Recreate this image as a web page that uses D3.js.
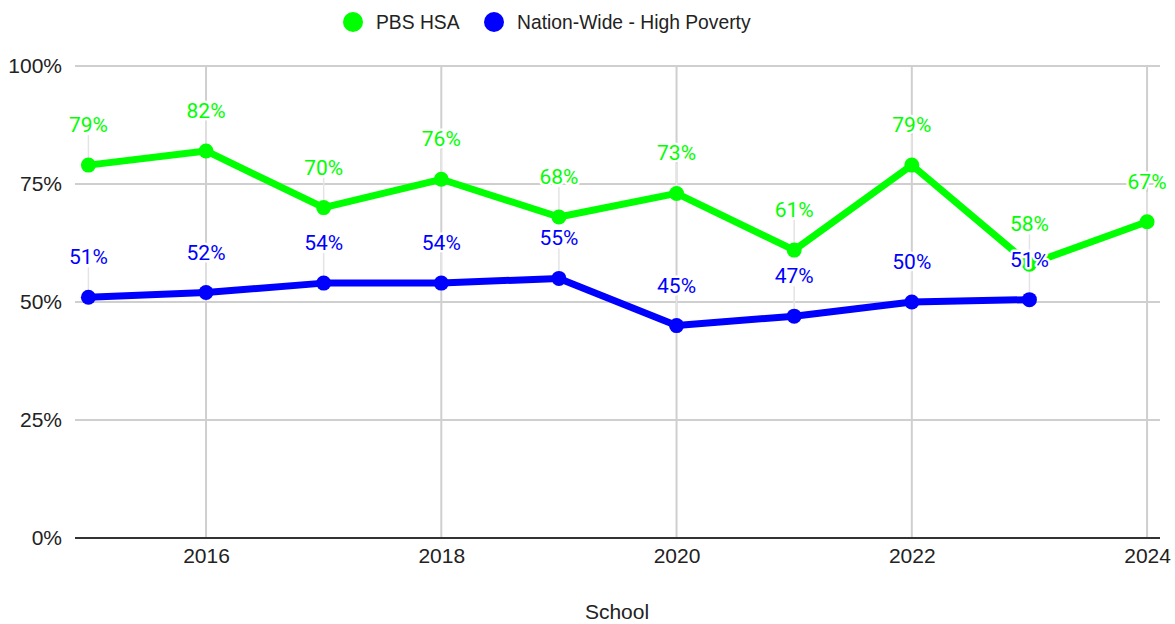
<!DOCTYPE html>
<html>
<head>
<meta charset="utf-8">
<script src="https://cdn.jsdelivr.net/npm/d3@7"></script>
<style>
  body { margin: 0; background: #fff; }
  svg { display: block; }
  .tick text { font-family: 'Liberation Sans', Arial, sans-serif; font-size: 21px; fill: #222; }
  .grid line { stroke: #cfcfcf; stroke-width: 2; }
  .lbl { font-family: Roboto, sans-serif; font-size: 21px; paint-order: stroke; stroke: #fff; stroke-width: 5px; stroke-linejoin: round; }
</style>
</head>
<body>
<svg></svg>
<script>
const years = [2015, 2016, 2017, 2018, 2019, 2020, 2021, 2022, 2023, 2024];
const pbsHsa = [79, 82, 70, 76, 68, 73, 61, 79, 58, 67];
const nationWide = [51, 52, 54, 54, 55, 45, 47, 50, 50.5, null];
const nationLabels = ['51%', '52%', '54%', '54%', '55%', '45%', '47%', '50%', '51%', null];
const xTicks = [2016, 2018, 2020, 2022, 2024];
const yTicks = [0, 25, 50, 75, 100];
const seriesNames = ['PBS HSA', 'Nation-Wide - High Poverty'];
const colors = ['#00ff00', '#0000ff'];

const width = 1175, height = 624;
const plot = {left: 75, right: 1160, top: 66, bottom: 538};

const svg = d3.select('svg')
    .attr('width', width)
    .attr('height', height);

const x = d3.scaleLinear()
    .domain([2014.886, 2024.11])
    .range([plot.left, plot.right]);
const y = d3.scaleLinear()
    .domain([0, 100])
    .range([plot.bottom, plot.top]);

// gridlines
svg.append('g').attr('class', 'grid')
  .selectAll('line').data(yTicks.slice(1)).enter()
  .append('line')
    .attr('x1', plot.left).attr('x2', plot.right)
    .attr('y1', d => y(d)).attr('y2', d => y(d));
svg.append('g').attr('class', 'grid')
  .selectAll('line').data(xTicks).enter()
  .append('line')
    .attr('x1', d => x(d)).attr('x2', d => x(d))
    .attr('y1', plot.top).attr('y2', plot.bottom);

// axes
const yAxis = svg.append('g')
    .attr('transform', `translate(${plot.left},0)`)
    .call(d3.axisLeft(y).tickValues(yTicks).tickFormat(d => d + '%').tickSize(0).tickPadding(13));
yAxis.select('.domain').remove();

const xAxis = svg.append('g')
    .attr('transform', `translate(0,${plot.bottom})`)
    .call(d3.axisBottom(x).tickValues(xTicks).tickFormat(d3.format('d')).tickSize(0).tickPadding(10));
xAxis.select('.domain').remove();
svg.append('line')
    .attr('x1', plot.left).attr('x2', plot.right)
    .attr('y1', y(0)).attr('y2', y(0))
    .attr('stroke', '#333').attr('stroke-width', 2);

svg.append('text')
    .attr('x', 617).attr('y', 619)
    .attr('text-anchor', 'middle')
    .style('font-family', "'Liberation Sans', Arial, sans-serif")
    .style('font-size', '21px')
    .attr('fill', '#222')
    .text('School');

// series
const series = [
  {values: pbsHsa, labels: pbsHsa.map(v => v + '%')},
  {values: nationWide, labels: nationLabels}
].map((s, i) => ({
  color: colors[i],
  points: years.map((yr, j) => ({year: yr, value: s.values[j], label: s.labels[j]}))
                .filter(p => p.value !== null)
}));

const line = d3.line().x(d => x(d.year)).y(d => y(d.value));

// leader lines
series.forEach(s => {
  svg.append('g').selectAll('line').data(s.points).enter()
    .append('line')
      .attr('x1', d => x(d.year)).attr('x2', d => x(d.year))
      .attr('y1', d => y(d.value) - 30).attr('y2', d => y(d.value))
      .attr('stroke', '#e4e4e4').attr('stroke-width', 1.5);
});

series.forEach(s => {
  const g = svg.append('g');
  g.append('path')
      .datum(s.points)
      .attr('d', line)
      .attr('fill', 'none')
      .attr('stroke', s.color)
      .attr('stroke-width', 7)
      .attr('stroke-linejoin', 'round');
  g.selectAll('circle').data(s.points).enter()
    .append('circle')
      .attr('cx', d => x(d.year))
      .attr('cy', d => y(d.value))
      .attr('r', 7.5)
      .attr('fill', s.color);
});

series.forEach(s => {
  svg.append('g').selectAll('text').data(s.points).enter()
    .append('text')
      .attr('class', 'lbl')
      .attr('x', d => x(d.year))
      .attr('y', d => y(d.value) - 33)
      .attr('text-anchor', 'middle')
      .attr('fill', s.color)
      .text(d => d.label);
});

// legend
const legend = svg.append('g');
const legendX = [353, 494];
seriesNames.forEach((name, i) => {
  legend.append('circle')
      .attr('cx', legendX[i]).attr('cy', 22).attr('r', 10)
      .attr('fill', colors[i]);
  legend.append('text')
      .attr('x', legendX[i] + 23).attr('y', 28.5)
      .style('font-family', "'Liberation Sans', Arial, sans-serif")
      .style('font-size', '19.3px')
      .attr('fill', '#222')
      .text(name);
});
</script>
</body>
</html>
